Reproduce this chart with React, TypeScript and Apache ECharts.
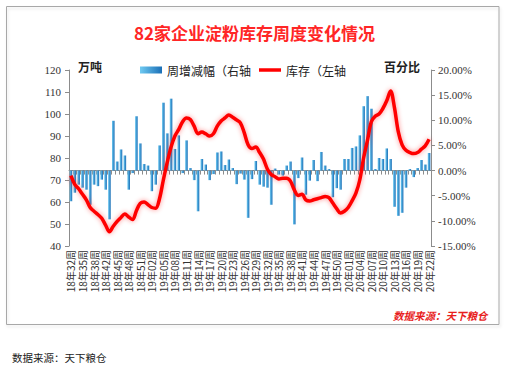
import React, { useEffect, useRef } from 'react';
import * as echarts from 'echarts';

const categories = [
  '18年32周','18年33周','18年34周','18年35周','18年36周','18年37周','18年38周','18年39周','18年41周','18年42周',
  '18年43周','18年44周','18年45周','18年46周','18年47周','18年48周','18年49周','18年50周','18年51周','18年52周',
  '19年01周','19年02周','19年03周','19年04周','19年05周','19年06周','19年07周','19年08周','19年09周','19年10周',
  '19年11周','19年12周','19年13周','19年14周','19年15周','19年16周','19年17周','19年18周','19年19周','19年20周',
  '19年21周','19年22周','19年23周','19年24周','19年25周','19年26周','19年27周','19年28周','19年29周','19年30周',
  '19年31周','19年32周','19年33周','19年34周','19年35周','19年36周','19年37周','19年38周','19年39周','19年40周',
  '19年41周','19年42周','19年43周','19年44周','19年45周','19年46周','19年47周','19年48周','19年49周','19年50周',
  '19年51周','19年52周','20年01周','20年02周','20年03周','20年04周','20年05周','20年06周','20年07周','20年08周',
  '20年09周','20年10周','20年11周','20年12周','20年13周','20年14周','20年15周','20年16周','20年17周','20年18周',
  '20年19周','20年20周','20年21周','20年22周'
];

// 周增减幅 (%), right axis
const weeklyChange = [
  -6.1, -4.4, -2.8, -3.4, -3.8, -6.8, -2.8, -3.1, -1.8, -3.8,
  -9.7, 9.9, 1.8, 4.2, 3.0, -3.8, -0.5, 10.8, 5.4, 1.3,
  1.0, -4.1, -2.8, 5.0, 13.5, 7.4, 14.3, 4.3, 7.0, -0.5,
  6.0, 0.5, -1.9, -8.1, 2.3, 1.2, -1.9, -0.7, 3.6, 3.8,
  1.1, 2.2, 0.5, -2.7, -0.6, -1.8, -9.4, -1.7, 1.9, -2.8,
  -3.2, -3.4, -6.8, 0.4, -0.8, -1.0, 1.0, 1.8, -10.7, -1.5,
  2.6, -4.8, -2.0, 2.1, -2.1, 3.7, 1.0, 0.3, -5.3, -3.5,
  -3.8, 2.3, 2.3, 4.5, 4.8, 7.0, 12.8, 14.8, 12.3, 0.3,
  2.5, 2.3, 4.4, 2.3, -7.2, -9.0, -8.4, -3.4, 0.3, -1.3,
  0.5, 2.1, 1.2, 3.5
];

// 库存 (万吨), left axis
const stock = [
  72, 68, 66, 63.5, 61, 57.5, 55.8, 54.3, 52.6, 49.5,
  46.5, 49, 51.2, 53, 54.5, 53.2, 52, 56, 59.4, 60,
  58.8, 57.5, 57.2, 61.5, 70, 78, 85, 90, 93, 96.5,
  98.2, 97.5, 94.5, 91, 91.8, 91, 90, 91, 94.5, 96.8,
  98.2, 99.5, 98.5, 97.3, 96, 91.5, 86, 84.3, 85, 82.5,
  79.5, 75, 72.5, 71.5, 70.5, 70.8, 70.8, 69.5, 65.5, 63,
  63.5, 61, 60.5, 61, 61.5, 62, 62.5, 62, 59.5, 57,
  55, 55.8, 57.5, 60.5, 64, 70, 80, 88, 96.5, 99,
  100, 102.5, 106, 110.5, 103, 92, 86, 83.5, 82.5, 82,
  82.5, 84, 85.5, 88.5
];

const barName = '周增减幅（右轴';
const lineName = '库存（左轴';

export default function App() {
  const ref = useRef<HTMLDivElement>(null);
  useEffect(() => {
    const chart = echarts.init(ref.current as HTMLDivElement, null, { renderer: 'svg' });
    const axisColor = '#8c8c8c';
    const labelFont = 'Liberation Serif';
    const legendText = { fontSize: 12, color: '#222', fontFamily: 'Noto Sans CJK SC' };
    chart.setOption({
      animation: false,
      backgroundColor: '#ffffff',
      title: {
        text: '82家企业淀粉库存周度变化情况',
        left: 'center',
        top: 19,
        textStyle: { fontSize: 17, fontWeight: 'bold', color: '#ff2626', fontFamily: 'Noto Sans CJK SC' },
      },
      legend: [
        {
          left: 135,
          top: 59,
          itemWidth: 22,
          itemHeight: 7,
          textStyle: legendText,
          data: [{ name: barName, icon: 'rect' }],
        },
        {
          left: 254,
          top: 59,
          itemWidth: 22,
          itemHeight: 3.5,
          textStyle: legendText,
          data: [{ name: lineName, icon: 'rect' }],
        },
      ],
      grid: { left: 69, right: 78, top: 70, bottom: 119, containLabel: false },
      xAxis: {
        type: 'category',
        data: categories,
        boundaryGap: true,
        axisLine: { show: true, lineStyle: { color: axisColor } },
        axisTick: { show: true, interval: 0, length: 4, lineStyle: { color: axisColor } },
        axisLabel: { interval: 2, rotate: 90, fontSize: 10, color: '#333', margin: 4, fontFamily: 'Noto Sans CJK SC' },
        splitLine: { show: false },
      },
      yAxis: [
        {
          type: 'value',
          position: 'left',
          min: 40,
          max: 120,
          interval: 10,
          axisLine: { show: true, lineStyle: { color: axisColor } },
          axisTick: { show: true, length: 4, lineStyle: { color: axisColor } },
          axisLabel: { fontSize: 11, color: '#333', margin: 8, fontFamily: labelFont },
          splitLine: { show: false },
        },
        {
          type: 'value',
          position: 'right',
          min: -15,
          max: 20,
          interval: 5,
          axisLine: { show: true, lineStyle: { color: axisColor } },
          axisTick: { show: true, length: 4, lineStyle: { color: axisColor } },
          axisLabel: {
            fontSize: 11,
            color: '#333',
            margin: 7,
            fontFamily: labelFont,
            formatter: (v: number) => v.toFixed(2) + '%',
          },
          splitLine: { show: false },
        },
      ],
      series: [
        {
          name: barName,
          type: 'bar',
          yAxisIndex: 1,
          data: weeklyChange,
          barWidth: 2.6,
          itemStyle: {
            color: new echarts.graphic.LinearGradient(0, 0, 1, 0, [
              { offset: 0, color: '#6fcaf2' },
              { offset: 1, color: '#1a6fb6' },
            ]),
          },
        },
        {
          name: lineName,
          type: 'line',
          yAxisIndex: 0,
          data: stock,
          smooth: 0.35,
          symbol: 'none',
          itemStyle: { color: '#ff0000' },
          lineStyle: {
            color: '#ff0000',
            width: 3.5,
            shadowColor: 'rgba(255,0,0,0.45)',
            shadowBlur: 5,
          },
          z: 3,
        },
      ],
      graphic: [
        {
          type: 'rect',
          shape: { x: 6.5, y: 6.5, width: 492.5, height: 318 },
          style: { fill: 'none', stroke: '#a8a8a8', lineWidth: 1, shadowColor: 'rgba(0,0,0,0.12)', shadowBlur: 3, shadowOffsetX: 1, shadowOffsetY: 2 },
          silent: true,
          z: -1,
        },
        {
          type: 'text',
          x: 78,
          y: 66,
          style: { text: '万吨', fontSize: 12, fontWeight: 'bold', fill: '#222', verticalAlign: 'middle', fontFamily: 'Noto Sans CJK SC' },
        },
        {
          type: 'text',
          x: 384,
          y: 66,
          style: { text: '百分比', fontSize: 12, fontWeight: 'bold', fill: '#222', verticalAlign: 'middle', fontFamily: 'Noto Sans CJK SC' },
        },
        {
          type: 'text',
          x: 393,
          y: 315,
          style: { text: '数据来源：天下粮仓', fontSize: 10.5, fontStyle: 'italic', fontWeight: 'bold', fill: '#e81e1e', verticalAlign: 'middle', fontFamily: 'Noto Sans CJK SC' },
        },
        {
          type: 'text',
          x: 12,
          y: 357,
          style: { text: '数据来源：天下粮仓', fontSize: 10.5, fill: '#222', verticalAlign: 'middle', fontFamily: 'Noto Sans CJK SC' },
        },
      ],
    });
    return () => chart.dispose();
  }, []);
  return (
    <div
      ref={ref}
      style={{ position: 'fixed', left: 0, top: 0, width: 509, height: 365, background: '#fff' }}
    />
  );
}
